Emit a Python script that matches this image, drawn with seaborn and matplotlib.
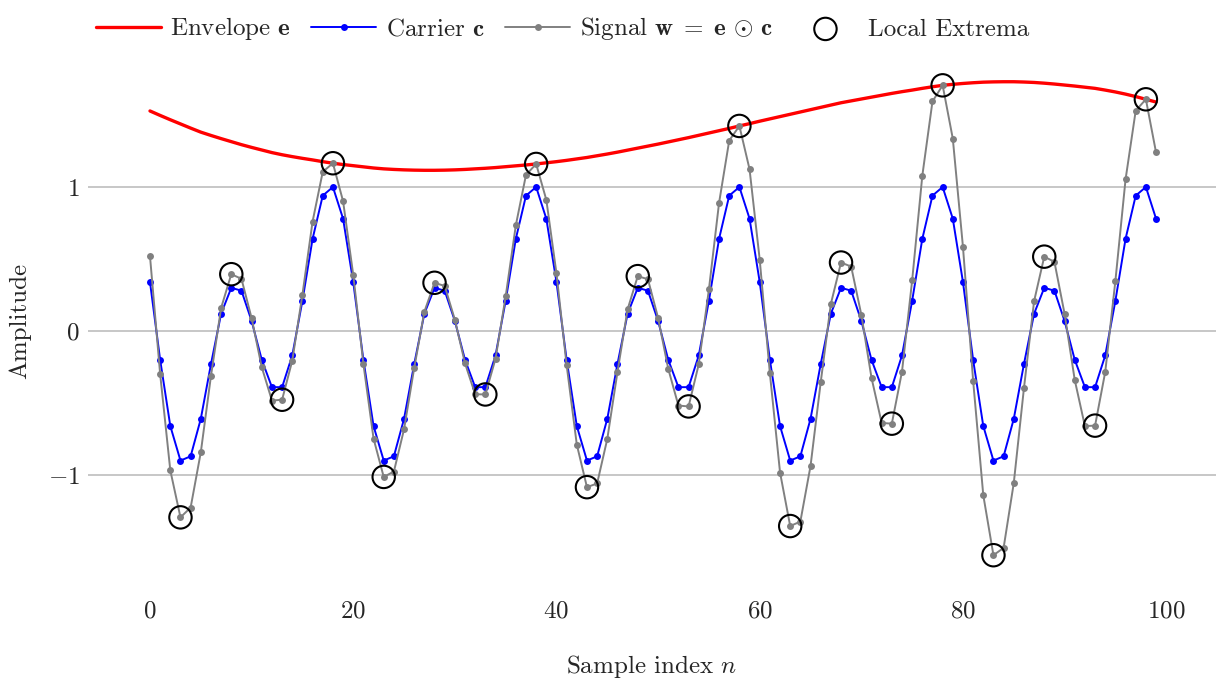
import numpy as np
import pandas as pd
import matplotlib
matplotlib.use("Agg")
import matplotlib.pyplot as plt
import seaborn as sns

# Sample indices
n = list(range(100))

# Slowly varying envelope e[n]
envelope = [
    1.528, 1.497, 1.467, 1.438, 1.409, 1.381, 1.358, 1.336, 1.315, 1.294,
    1.275, 1.257, 1.239, 1.224, 1.211, 1.199, 1.188, 1.176, 1.165, 1.156,
    1.148, 1.140, 1.132, 1.126, 1.122, 1.119, 1.117, 1.116, 1.116, 1.117,
    1.119, 1.122, 1.126, 1.130, 1.135, 1.141, 1.147, 1.153, 1.160, 1.168,
    1.176, 1.185, 1.195, 1.205, 1.217, 1.229, 1.242, 1.256, 1.270, 1.284,
    1.298, 1.313, 1.328, 1.343, 1.359, 1.375, 1.391, 1.407, 1.424, 1.440,
    1.457, 1.473, 1.489, 1.505, 1.521, 1.537, 1.553, 1.569, 1.585, 1.598,
    1.611, 1.624, 1.637, 1.650, 1.662, 1.673, 1.685, 1.696, 1.706, 1.713,
    1.719, 1.724, 1.728, 1.730, 1.731, 1.731, 1.729, 1.726, 1.721, 1.715,
    1.708, 1.701, 1.693, 1.685, 1.673, 1.660, 1.645, 1.628, 1.609, 1.590,
]

# Periodic carrier c[n] (period 20)
carrier = [
    0.34, -0.20, -0.66, -0.90, -0.87, -0.61, -0.23, 0.12, 0.30, 0.28,
    0.07, -0.20, -0.39, -0.39, -0.17, 0.21, 0.64, 0.94, 1.00, 0.78,
    0.34, -0.20, -0.66, -0.90, -0.87, -0.61, -0.23, 0.12, 0.30, 0.28,
    0.07, -0.20, -0.39, -0.39, -0.17, 0.21, 0.64, 0.94, 1.00, 0.78,
    0.34, -0.20, -0.66, -0.90, -0.87, -0.61, -0.23, 0.12, 0.30, 0.28,
    0.07, -0.20, -0.39, -0.39, -0.17, 0.21, 0.64, 0.94, 1.00, 0.78,
    0.34, -0.20, -0.66, -0.90, -0.87, -0.61, -0.23, 0.12, 0.30, 0.28,
    0.07, -0.20, -0.39, -0.39, -0.17, 0.21, 0.64, 0.94, 1.00, 0.78,
    0.34, -0.20, -0.66, -0.90, -0.87, -0.61, -0.23, 0.12, 0.30, 0.28,
    0.07, -0.20, -0.39, -0.39, -0.17, 0.21, 0.64, 0.94, 1.00, 0.78,
]

# Indices of the local extrema of the modulated signal
extrema_idx = [3, 8, 13, 18, 23, 28, 33, 38, 43, 48,
               53, 58, 63, 68, 73, 78, 83, 88, 93, 98]

x_ticks = [0, 20, 40, 60, 80, 100]
y_ticks = [-1, 0, 1]

df = pd.DataFrame({"n": n, "e": envelope, "c": carrier})
df["w"] = df["e"] * df["c"]
ext = df.loc[extrema_idx]

sns.set_theme(style="white")
plt.rcParams.update({
    "font.family": "serif",
    "font.serif": ["cmr10"],
    "mathtext.fontset": "cm",
    "axes.formatter.use_mathtext": True,
    "axes.unicode_minus": True,
})

W, H = 1216, 680
fig = plt.figure(figsize=(W / 100, H / 100), dpi=100)
ax = fig.add_axes([88 / W, 1 - 592 / H, (1216 - 88) / W, (592 - 50) / H])

sns.lineplot(data=df, x="n", y="e", ax=ax, color="#ff0000", linewidth=2.4,
             label=r"Envelope $\mathbf{e}$", zorder=2)
sns.lineplot(data=df, x="n", y="c", ax=ax, color="#0000ff", linewidth=1.4,
             marker="o", markersize=5, markeredgewidth=0,
             label=r"Carrier $\mathbf{c}$", zorder=3)
sns.lineplot(data=df, x="n", y="w", ax=ax, color="#808080", linewidth=1.4,
             marker="o", markersize=5, markeredgewidth=0,
             label=r"Signal $\mathbf{w}\;=\;\mathbf{e}\,\odot\,\mathbf{c}$", zorder=4)
sns.scatterplot(data=ext, x="n", y="w", ax=ax, s=260, facecolor="none",
                edgecolor="black", linewidth=1.5, label="Local Extrema", zorder=5)

ax.set_xlim(-6.1, 104.9)
ax.set_ylim((331 - 592) / 144, (331 - 50) / 144)
ax.set_xticks(x_ticks)
ax.set_yticks(y_ticks)
ax.tick_params(axis="both", length=0, labelsize=18, pad=6)
ax.yaxis.grid(True, color="#bebebe", linewidth=1.2)
ax.xaxis.grid(False)
ax.set_axisbelow(True)
for s in ax.spines.values():
    s.set_visible(False)

ax.set_xlabel(r"Sample index $n$", fontsize=18, labelpad=22)
ax.set_ylabel("Amplitude", fontsize=18, labelpad=12)

ax.legend(loc="lower left", bbox_to_anchor=(0.0, 1.0), ncol=4, frameon=False,
          fontsize=18, handlelength=2.6, handletextpad=0.4, columnspacing=0.8,
          borderaxespad=0.1, borderpad=0.2)

fig.savefig("out.png", dpi=100)
